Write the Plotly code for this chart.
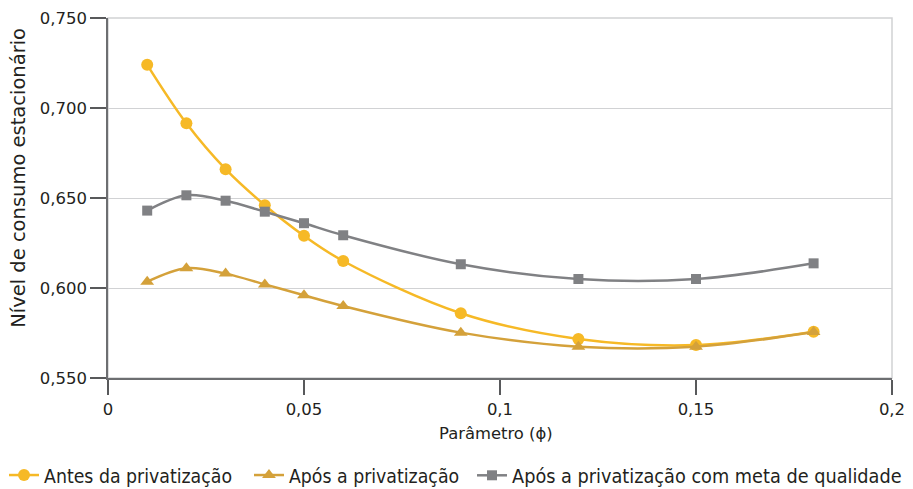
import plotly.graph_objects as go

x_vals = [0.01, 0.02, 0.03, 0.04, 0.05, 0.06, 0.09, 0.12, 0.15, 0.18]
antes = [0.724, 0.6915, 0.666, 0.646, 0.629, 0.615, 0.586, 0.5717, 0.5683, 0.5757]
apos = [0.6035, 0.611, 0.608, 0.602, 0.596, 0.590, 0.5752, 0.5674, 0.5674, 0.5755]
meta = [0.643, 0.6515, 0.6485, 0.6424, 0.636, 0.6293, 0.6132, 0.605, 0.605, 0.6137]

names = ["Antes da privatização", "Após a privatização",
         "Após a privatização com meta de qualidade"]

x_ticks = [0, 0.05, 0.1, 0.15, 0.2]
x_labels = ["0", "0,05", "0,1", "0,15", "0,2"]
y_ticks = [0.55, 0.60, 0.65, 0.70, 0.75]
y_labels = ["0,550", "0,600", "0,650", "0,700", "0,750"]

x_title = "Parâmetro (ϕ)"
y_title = "Nível de consumo estacionário"

c_antes = "#F6B926"
c_apos = "#D4A13A"
c_meta = "#808184"
c_text = "#231F20"
c_axis = "#6D6E71"
c_tick = "#58595B"
c_grid = "#D1D2D4"

series = [
    (antes, names[0], c_antes, "circle", 12, "legend"),
    (apos, names[1], c_apos, "triangle-up", 12, "legend2"),
    (meta, names[2], c_meta, "square", 10, "legend3"),
]

fig = go.Figure()
for ys, nm, col, sym, sz, lg in series:
    fig.add_trace(go.Scatter(
        x=x_vals, y=ys, name=nm, mode="lines+markers", legend=lg,
        line=dict(color=col, width=2.5, shape="spline", smoothing=1),
        marker=dict(symbol=sym, size=sz, color=col)))

font_main = "DejaVu Sans"


def leg(xpos, size):
    return dict(orientation="h", xref="container", yref="container",
                yanchor="top", y=0.0675, xanchor="left", x=xpos,
                font=dict(family="DejaVu Sans Condensed", size=size, color=c_text),
                bgcolor="rgba(0,0,0,0)", borderwidth=0)


fig.update_layout(
    width=913, height=489,
    margin=dict(l=108, r=21, t=18, b=111, autoexpand=False),
    paper_bgcolor="white", plot_bgcolor="white",
    font=dict(family=font_main, size=16, color=c_text),
    showlegend=True,
    legend=leg(0.0044, 19.3),
    legend2=leg(0.2727, 19.3),
    legend3=leg(0.517, 19.7),
    shapes=[dict(type="rect", xref="paper", yref="paper", x0=0, x1=1, y0=0, y1=1,
                 line=dict(color=c_grid, width=1.5), layer="below")],
    annotations=[
        dict(text=y_title, textangle=-90, xref="paper", yref="paper",
             x=-0.1135, y=0.556, xanchor="center", yanchor="middle",
             showarrow=False, font=dict(family=font_main, size=19.5, color=c_text)),
        dict(text=x_title, xref="paper", yref="paper",
             x=0.4949, y=-0.153, xanchor="center", yanchor="middle",
             showarrow=False, font=dict(family=font_main, size=16.4, color=c_text)),
    ],
)
fig.update_xaxes(range=[0, 0.2], tickvals=x_ticks, ticktext=x_labels, automargin=False,
                 showgrid=False, zeroline=False, showline=True, linecolor=c_axis,
                 linewidth=1.5, ticks="outside", ticklen=15, tickwidth=1.5, tickcolor=c_tick,
                 tickfont=dict(size=16.5))
fig.update_yaxes(range=[0.55, 0.75], tickvals=y_ticks, ticktext=y_labels, automargin=False,
                 showgrid=True, gridcolor=c_grid, gridwidth=1.3, zeroline=False,
                 showline=True, linecolor=c_axis, linewidth=1.5,
                 ticks="outside", ticklen=16, tickwidth=1.5, tickcolor=c_tick,
                 tickfont=dict(size=16.5))

fig.write_html("out.html", config={"displayModeBar": False},
               post_script="document.body.style.margin='0';document.body.style.overflow='hidden';")
